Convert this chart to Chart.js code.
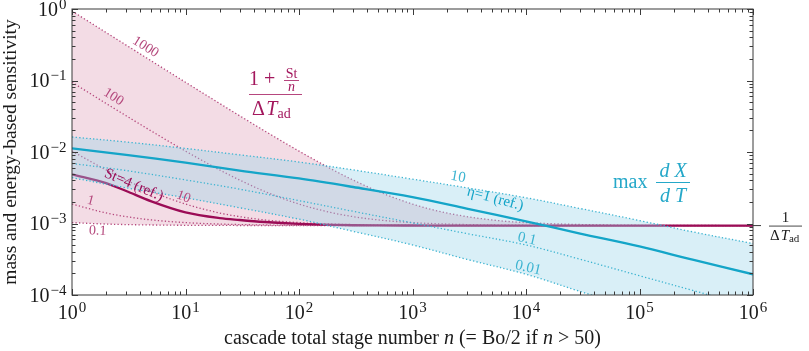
<!DOCTYPE html>
<html>
<head>
<meta charset="utf-8">
<script src="https://cdn.jsdelivr.net/npm/chart.js@4.4.1/dist/chart.umd.min.js"></script>
<style>
html, body { margin: 0; padding: 0; background: #fff; }
canvas { display: block; }
</style>
</head>
<body>
<canvas id="sens" width="809" height="351"></canvas>
<script>
// stage number grids (x)
const nPink = [1, 2, 3, 5, 10, 20, 30, 50, 100, 200, 300, 500, 1e3, 2e3, 5e3, 1e4, 1e5, 1e6];
const nCyan = [1, 3, 10, 30, 100, 300, 1e3, 3e3, 1e4, 3e4, 1e5, 3e5, 1e6];

// (1 + St/n) / dT_ad
const st1000 = [0.936, 0.468, 0.3126, 0.188, 0.0944, 0.0477, 0.0321, 0.01964, 0.01029, 0.00561, 0.00405, 0.002805, 0.00187, 0.001403, 0.001122, 0.001029, 0.000944, 0.000936];
const st100 = [0.0944, 0.0477, 0.0321, 0.01964, 0.01029, 0.00561, 0.00405, 0.002805, 0.00187, 0.001403, 0.001247, 0.001122, 0.001029, 0.000982, 0.000954, 0.000944, 0.000936, 0.000935];
const st10 = [0.01029, 0.00561, 0.00405, 0.002805, 0.00187, 0.001403, 0.001247, 0.001122, 0.001029, 0.000982, 0.000966, 0.000954, 0.000944, 0.00094, 0.000937, 0.000936, 0.000935, 0.000935];
const st4 = [0.00488, 0.00367, 0.00285, 0.00204, 0.00143, 0.00119, 0.00112, 0.00105, 0.000989, 0.000955, 0.000945, 0.00094, 0.000937, 0.000936, 0.000935, 0.000935, 0.000935, 0.000935];
const st1 = [0.00187, 0.001403, 0.001247, 0.001122, 0.001029, 0.000982, 0.000966, 0.000954, 0.000944, 0.00094, 0.000938, 0.000937, 0.000936, 0.000935, 0.000935, 0.000935, 0.000935, 0.000935];
const st01 = [0.001029, 0.000982, 0.000966, 0.000954, 0.000944, 0.00094, 0.000938, 0.000937, 0.000936, 0.000935, 0.000935, 0.000935, 0.000935, 0.000935, 0.000935, 0.000935, 0.000935, 0.000935];
const invDT = 0.000935;

// max dX/dT for several eta
const eta10 = [0.01622, 0.0138, 0.01122, 0.00912, 0.00724, 0.00562, 0.00417, 0.00316, 0.00229, 0.00162, 0.0011, 0.000759, 0.000525];
const eta1 = [0.01122, 0.00912, 0.00708, 0.0055, 0.00427, 0.00324, 0.00234, 0.00162, 0.00107, 0.000724, 0.000479, 0.000309, 0.000195];
const eta01 = [0.00692, 0.0055, 0.00407, 0.00302, 0.00209, 0.00148, 0.00102, 0.000724, 0.000501, 0.000316, 0.000186, 0.000115, 0.0000676];
const eta001 = [0.00437, 0.00316, 0.00229, 0.00166, 0.00115, 0.000776, 0.000501, 0.000316, 0.000195, 0.000112, 0.0000617, 0.0000355, 0.0000195];

// tick label exponents
const xExp = [0, 1, 2, 3, 4, 5, 6];
const yExp = [-4, -3, -2, -1, 0];

const pinkDot = '#b5497d';
const pinkDark = '#9b0c56';
const cyanDot = '#3db4d1';
const cyanLine = '#14a5c8';
const serif = '"Liberation Serif", "DejaVu Serif", serif';

// in-plot labels, anchored in data coordinates (r: clockwise degrees)
const notes = [
    {t: '1000', n: 4.45, v: 0.294, r: 32, c: pinkDot, s: 14},
    {t: '100', n: 2.32, v: 0.0587, r: 32, c: pinkDot, s: 14},
    {t: '10', n: 9.6, v: 0.00235, r: 20, c: pinkDot, s: 14},
    {t: '1', n: 1.46, v: 0.00207, r: 15, c: pinkDot, s: 14},
    {t: '0.1', n: 1.68, v: 0.000785, r: 3, c: pinkDot, s: 14},
    {t: 'St=4 (ref.)', n: 3.5, v: 0.00345, r: 23, c: pinkDark, s: 15},
    {t: '10', n: 2520, v: 0.00447, r: 10, c: cyanDot, s: 15},
    {t: '\u03b7=1 (ref.)', n: 5350, v: 0.0022, r: 15, c: cyanLine, s: 15},
    {t: '0.1', n: 10200, v: 0.000607, r: 13, c: cyanDot, s: 15},
    {t: '0.01', n: 10450, v: 0.000239, r: 13, c: cyanDot, s: 15}
];

function pts(xs, ys) {
    return xs.map(function(x, i) { return {x: x, y: ys[i]}; });
}

function curve(label, xs, ys, color, order, solid, smooth) {
    let ds = {
        label: label, data: pts(xs, ys), borderColor: color,
        borderWidth: solid ? 2.3 : 1.3, pointRadius: 0, fill: false, order: order
    };
    if (!solid) ds.borderDash = [1.3, 2.2];
    if (smooth === 'mono') ds.cubicInterpolationMode = 'monotone';
    else ds.tension = 0.35;
    return ds;
}

let datasets = [
    curve('St=1000', nPink, st1000, pinkDot, 20, false, 'mono'),
    curve('St=100', nPink, st100, pinkDot, 19, false, 'mono'),
    curve('St=10', nPink, st10, pinkDot, 18, false, 'mono'),
    curve('St=1', nPink, st1, pinkDot, 17, false, 'mono'),
    curve('St=0.1', nPink, st01, pinkDot, 16, false, 'mono'),
    curve('St=4', nPink, st4, pinkDark, 15, true, 'mono'),
    curve('eta=10', nCyan, eta10, cyanDot, 10, false),
    curve('eta=0.1', nCyan, eta01, cyanDot, 9, false),
    curve('eta=1', nCyan, eta1, cyanLine, 7, true),
    curve('eta=0.01', nCyan, eta001, cyanDot, 8, false)
];
// shaded bands
datasets[0].fill = 4;
datasets[0].backgroundColor = 'rgba(185, 45, 100, 0.17)';
datasets[6].fill = 9;
datasets[6].backgroundColor = 'rgba(150, 210, 232, 0.36)';

function powLabel(ctx, e, x, y, align) {
    const ex = e < 0 ? '\u2212' + (-e) : String(e);
    ctx.font = '20px ' + serif;
    const wb = ctx.measureText('10').width;
    ctx.font = '15px ' + serif;
    const we = ctx.measureText(ex).width;
    const left = align === 'right' ? x - wb - we - 1 : x - (wb + we + 1) / 2;
    ctx.textAlign = 'left';
    ctx.textBaseline = 'alphabetic';
    ctx.font = '20px ' + serif;
    ctx.fillText('10', left, y + 6.6);
    ctx.font = '15px ' + serif;
    ctx.fillText(ex, left + wb + 1, y - 0.5);
}

// draws a run of [text, font, dy] pieces starting at x
function runText(ctx, parts, x, y) {
    parts.forEach(function(p) {
        ctx.font = p[1];
        ctx.fillText(p[0], x, y + (p[2] || 0));
        x += ctx.measureText(p[0]).width;
    });
}
function runWidth(ctx, parts) {
    let w = 0;
    parts.forEach(function(p) { ctx.font = p[1]; w += ctx.measureText(p[0]).width; });
    return w;
}

const decor = {
    id: 'decor',
    afterDraw(chart) {
        const ctx = chart.ctx;
        const xs = chart.scales.x, ys = chart.scales.y;
        const L = xs.getPixelForValue(1), R = xs.getPixelForValue(1e6);
        const T = ys.getPixelForValue(1), B = ys.getPixelForValue(1e-4);
        ctx.save();
        ctx.strokeStyle = '#3a3a3a';
        ctx.lineWidth = 1;
        ctx.strokeRect(L, T, R - L, B - T);

        // inward ticks on all four sides
        ctx.beginPath();
        for (let d = 0; d <= 6; d++) {
            for (let k = 1; k <= 9; k++) {
                if (d === 6 && k > 1) break;
                const px = Math.round(xs.getPixelForValue(k * Math.pow(10, d))) + 0.5;
                const len = k === 1 ? 6 : 3.5;
                ctx.moveTo(px, B); ctx.lineTo(px, B - len);
                ctx.moveTo(px, T); ctx.lineTo(px, T + len);
            }
        }
        for (let d = -4; d <= 0; d++) {
            for (let k = 1; k <= 9; k++) {
                if (d === 0 && k > 1) break;
                const py = Math.round(ys.getPixelForValue(k * Math.pow(10, d))) + 0.5;
                const len = k === 1 ? 6 : 3.5;
                ctx.moveTo(L, py); ctx.lineTo(L + len, py);
                ctx.moveTo(R, py); ctx.lineTo(R - len, py);
            }
        }
        // 1/dT_ad marker on the right
        const pb = ys.getPixelForValue(invDT);
        ctx.moveTo(R, pb); ctx.lineTo(R + 8, pb);
        ctx.stroke();

        ctx.fillStyle = '#1a1a1a';
        xExp.forEach(function(e) { powLabel(ctx, e, xs.getPixelForValue(Math.pow(10, e)), 312, 'center'); });
        yExp.forEach(function(e) { powLabel(ctx, e, L - 5.5, ys.getPixelForValue(Math.pow(10, e)), 'right'); });

        // axis titles
        const xParts = [
            ['cascade total stage number ', '20px ' + serif],
            ['n', 'italic 20px ' + serif],
            [' (= Bo/2 if ', '20px ' + serif],
            ['n', 'italic 20px ' + serif],
            [' > 50)', '20px ' + serif]
        ];
        ctx.textAlign = 'left';
        ctx.textBaseline = 'alphabetic';
        runText(ctx, xParts, (L + R) / 2 - runWidth(ctx, xParts) / 2, 344);
        ctx.save();
        ctx.translate(16, (T + B) / 2);
        ctx.rotate(-Math.PI / 2);
        ctx.textAlign = 'center';
        ctx.font = '19.5px ' + serif;
        ctx.fillText('mass and energy-based sensitivity', 0, 0);
        ctx.restore();

        // labels along the curves
        notes.forEach(function(a) {
            ctx.save();
            ctx.translate(xs.getPixelForValue(a.n), ys.getPixelForValue(a.v));
            ctx.rotate(a.r * Math.PI / 180);
            ctx.fillStyle = a.c;
            ctx.font = a.s + 'px ' + serif;
            ctx.textAlign = 'center';
            ctx.textBaseline = 'middle';
            ctx.fillText(a.t, 0, 0);
            ctx.restore();
        });

        // (1 + St/n) / dT_ad
        ctx.fillStyle = '#a3175d';
        ctx.strokeStyle = '#a3175d';
        ctx.textAlign = 'left';
        ctx.textBaseline = 'alphabetic';
        ctx.font = '20px ' + serif;
        ctx.fillText('1 +', 249, 85);
        ctx.textAlign = 'center';
        ctx.font = '14px ' + serif;
        ctx.fillText('St', 291.5, 78);
        ctx.font = 'italic 14px ' + serif;
        ctx.fillText('n', 291.5, 91);
        ctx.lineWidth = 0.8;
        ctx.beginPath();
        ctx.moveTo(284, 80.5); ctx.lineTo(299, 80.5);
        ctx.moveTo(249, 94.5); ctx.lineTo(302, 94.5);
        ctx.stroke();
        ctx.textAlign = 'left';
        runText(ctx, [['\u0394', '20px ' + serif], [' ', '6px ' + serif], ['T', 'italic 20px ' + serif], ['ad', '14px ' + serif, 3]], 252, 115);

        // max dX/dT
        ctx.fillStyle = '#25a8c9';
        ctx.strokeStyle = '#25a8c9';
        ctx.font = '20px ' + serif;
        ctx.fillText('max', 613, 188);
        ctx.textAlign = 'center';
        ctx.font = 'italic 20px ' + serif;
        ctx.fillText('d X', 673, 177);
        ctx.fillText('d T', 673, 202);
        ctx.lineWidth = 1;
        ctx.beginPath();
        ctx.moveTo(656, 182.5); ctx.lineTo(690, 182.5);
        ctx.stroke();

        // 1 / dT_ad on the right
        ctx.fillStyle = '#1a1a1a';
        ctx.strokeStyle = '#1a1a1a';
        ctx.font = '15px ' + serif;
        ctx.fillText('1', 785.5, pb - 4);
        ctx.lineWidth = 0.8;
        ctx.beginPath();
        ctx.moveTo(769, pb + 0.5); ctx.lineTo(802, pb + 0.5);
        ctx.stroke();
        ctx.textAlign = 'left';
        runText(ctx, [['\u0394', '15px ' + serif], [' ', '4px ' + serif], ['T', 'italic 15px ' + serif], ['ad', '11px ' + serif, 2]], 770, pb + 14);
        ctx.restore();
    }
};

new Chart(document.getElementById('sens'), {
    type: 'line',
    data: {datasets: datasets},
    options: {
        responsive: false,
        animation: false,
        layout: {padding: {left: 72, right: 56, top: 9, bottom: 56}},
        scales: {
            x: {type: 'logarithmic', min: 1, max: 1e6, display: false},
            y: {type: 'logarithmic', min: 1e-4, max: 1, display: false}
        },
        plugins: {legend: {display: false}, tooltip: {enabled: false}}
    },
    plugins: [decor]
});
</script>
</body>
</html>
